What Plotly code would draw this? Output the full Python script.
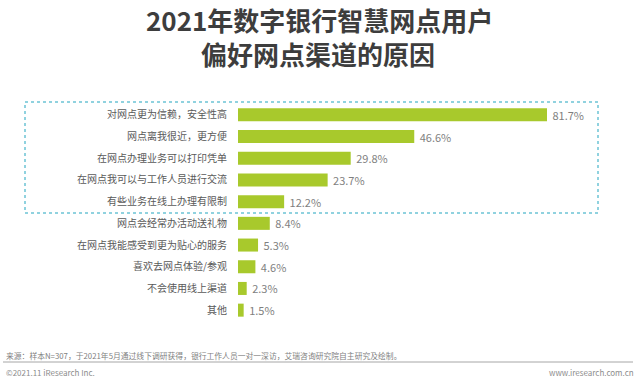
import plotly.graph_objects as go

categories = [
    "对网点更为信赖，安全性高",
    "网点离我很近，更方便",
    "在网点办理业务可以打印凭单",
    "在网点我可以与工作人员进行交流",
    "有些业务在线上办理有限制",
    "网点会经常办活动送礼物",
    "在网点我能感受到更为贴心的服务",
    "喜欢去网点体验/参观",
    "不会使用线上渠道",
    "其他",
]
values = [81.7, 46.6, 29.8, 23.7, 12.2, 8.4, 5.3, 4.6, 2.3, 1.5]

title_lines = ["2021年数字银行智慧网点用户", "偏好网点渠道的原因"]
source_text = "来源：样本N=307，于2021年5月通过线下调研获得，银行工作人员一对一深访，艾瑞咨询研究院自主研究及绘制。"
copyright_text = "©2021.11 iResearch Inc."
site_text = "www.iresearch.com.cn"

W, H = 640, 383
L, R, T, B = 238, 40, 104, 62
PW, PH = W - L - R, H - T - B

def px(x):
    return (x - L) / PW

def py(y):
    return (H - B - y) / PH

FONT = "Noto Sans CJK SC"

fig = go.Figure()
fig.add_trace(go.Bar(
    y=categories,
    x=values,
    orientation="h",
    marker=dict(color="#a8c92c", line=dict(width=0)),
    width=0.6,
    text=values,
    texttemplate=" %{x:.1f}%",
    textposition="outside",
    constraintext="none",
    cliponaxis=False,
    textfont=dict(family=FONT, size=11, color="#7f7f7f"),
    hoverinfo="skip",
))

annotations = [
    dict(text=title_lines[0], x=px(319), y=py(19), xref="paper", yref="paper",
         showarrow=False, xanchor="center", yanchor="middle",
         font=dict(family=FONT, size=26, color="#3d3d3d", weight="bold")),
    dict(text=title_lines[1], x=px(318), y=py(53), xref="paper", yref="paper",
         showarrow=False, xanchor="center", yanchor="middle",
         font=dict(family=FONT, size=26, color="#3d3d3d", weight="bold")),
    dict(text=source_text, x=px(4), y=py(355), xref="paper", yref="paper",
         showarrow=False, xanchor="left", yanchor="middle",
         font=dict(family=FONT, size=7.8, color="#7f7f7f")),
    dict(text=copyright_text, x=px(4), y=py(372), xref="paper", yref="paper",
         showarrow=False, xanchor="left", yanchor="middle",
         font=dict(family=FONT, size=8, color="#8c8c8c")),
    dict(text=site_text, x=px(636), y=py(372), xref="paper", yref="paper",
         showarrow=False, xanchor="right", yanchor="middle",
         font=dict(family=FONT, size=8, color="#8c8c8c")),
]

shapes = [
    dict(type="rect", xref="paper", yref="paper",
         x0=px(25), x1=px(598), y0=py(213), y1=py(102),
         line=dict(color="#6cc3d5", width=1.5, dash="dot"), fillcolor="rgba(0,0,0,0)"),
    dict(type="line", xref="paper", yref="paper",
         x0=px(3), x1=px(633), y0=py(362), y1=py(362),
         line=dict(color="#a6a6a6", width=1)),
]

fig.update_layout(
    width=W, height=H,
    margin=dict(l=L, r=R, t=T, b=B, pad=0),
    paper_bgcolor="white", plot_bgcolor="white",
    showlegend=False,
    bargap=0.4,
    xaxis=dict(range=[0, PW / (309 / 81.7)], visible=False, fixedrange=True),
    yaxis=dict(autorange="reversed", showgrid=False, zeroline=False, showline=False,
               ticks="", ticklabelstandoff=10,
               tickfont=dict(family=FONT, size=10, color="#595959"), fixedrange=True),
    annotations=annotations,
    shapes=shapes,
)

fig.write_html(
    "out.html",
    config={"displayModeBar": False},
    post_script="document.body.style.margin='0';document.body.style.padding='0';document.body.style.overflow='hidden';",
)
